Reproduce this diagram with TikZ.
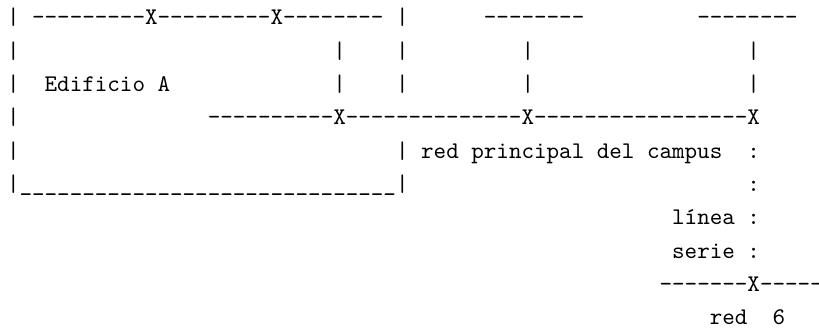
\documentclass[tikz,border=0pt]{standalone}
% Monospaced plan of the campus network, set character by character
% (10pt typewriter design, enlarged so one character cell is 12.55pt wide)
\newcommand\asciitext[1]{\scalebox{2.39}{\fontsize{10}{12}\selectfont\ttfamily #1}}
\tikzset{
  cell/.style={anchor=base west, inner sep=0pt, outer sep=0pt, text=black},
}
% \seg{name}{column}{row}{text}: text starting at a character cell
\newcommand\seg[4]{\node[cell] (#1) at ({7.03+12.55*#2},{25+33.3*(#3-1)}) {\asciitext{#4}};}
\begin{document}
\begin{tikzpicture}[x=1pt,y=-1pt]
\useasboundingbox[fill=white] (0,0) rectangle (819,329);
% row 1
\seg{ra1}{0}{1}{|}
\seg{ra2}{2}{1}{---------X---------X--------}
\seg{ra3}{31}{1}{|}
\seg{ra4}{38}{1}{--------}
\seg{ra5}{55}{1}{--------}
% row 2
\seg{rb1}{0}{2}{|}
\seg{rb2}{26}{2}{|}
\seg{rb3}{31}{2}{|}
\seg{rb4}{41}{2}{|}
\seg{rb5}{59}{2}{|}
% row 3
\seg{rc1}{0}{3}{|}
\seg{rc2}{3}{3}{Edificio A}
\seg{rc3}{26}{3}{|}
\seg{rc4}{31}{3}{|}
\seg{rc5}{41}{3}{|}
\seg{rc6}{59}{3}{|}
% row 4
\seg{rd1}{0}{4}{|}
\seg{rd2}{16}{4}{----------X--------------X-----------------X}
% row 5
\seg{re1}{0}{5}{|}
\seg{re2}{31}{5}{|}
\seg{re3}{33}{5}{red principal del campus}
\seg{re4}{59}{5}{:}
% row 6
\seg{rf1}{0}{6}{|}
\seg{rf2}{1}{6}{\_\_\_\_\_\_\_\_\_\_\_\_\_\_\_\_\_\_\_\_\_\_\_\_\_\_\_\_\_\_}
\seg{rf3}{31}{6}{|}
\seg{rf4}{59}{6}{:}
% rows 7-10
\seg{rg1}{53}{7}{línea :}
\seg{rh1}{53}{8}{serie :}
\seg{ri1}{52}{9}{-------X-----}
\seg{rj1}{56}{10}{red~~6}
\end{tikzpicture}
\end{document}
